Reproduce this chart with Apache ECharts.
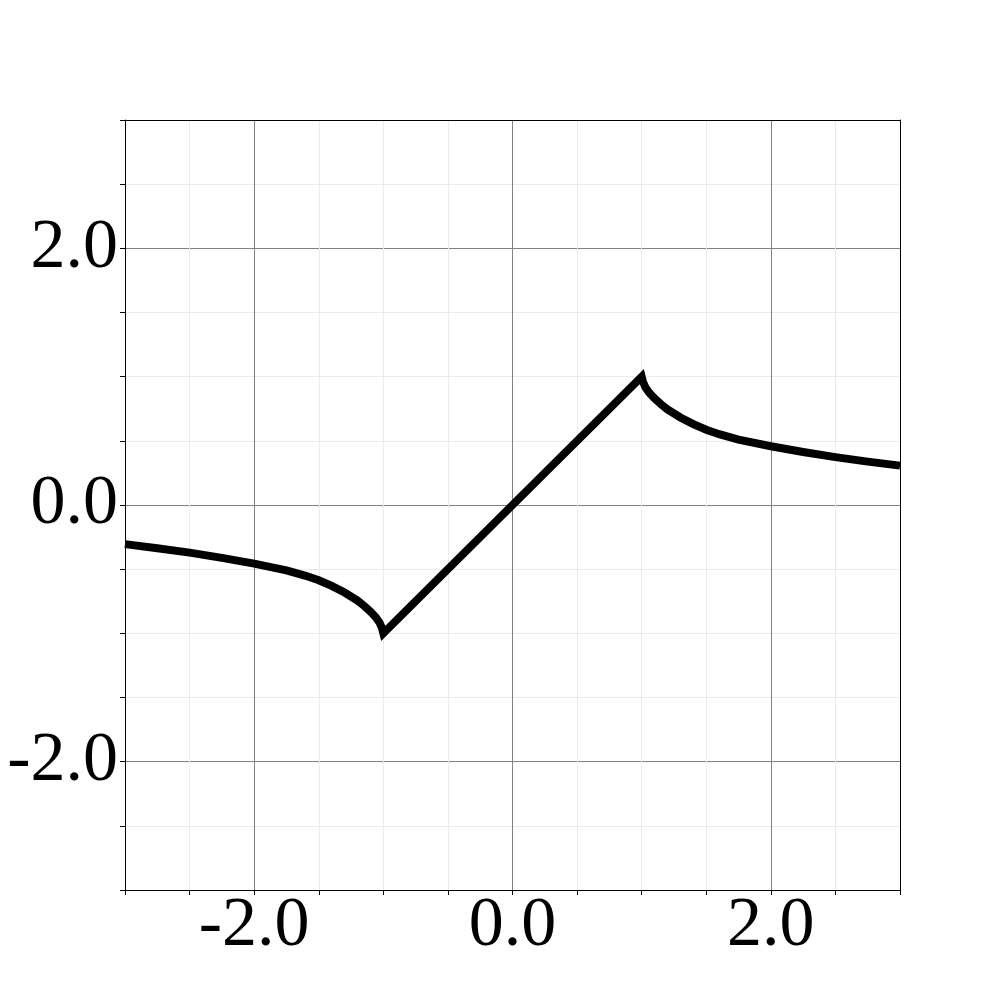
<!DOCTYPE html>
<html>
<head>
<meta charset="utf-8">
<script src="https://cdn.jsdelivr.net/npm/echarts@6/dist/echarts.min.js"></script>
<style>html,body{margin:0;padding:0;background:#fff;}#c{width:1000px;height:1000px;}</style>
</head>
<body>
<div id="c"></div>
<script>
const xValues = [-3, -2.75, -2.5, -2.25, -2, -1.75, -1.6, -1.5, -1.4, -1.3, -1.2, -1.15, -1.1, -1.06, -1.03, -1.01, -1, 0,
                 1, 1.01, 1.03, 1.06, 1.1, 1.15, 1.2, 1.3, 1.4, 1.5, 1.6, 1.75, 2, 2.25, 2.5, 2.75, 3];
const yValues = [-0.305, -0.337, -0.371, -0.412, -0.457, -0.51, -0.552, -0.587, -0.63, -0.682, -0.745, -0.785, -0.83, -0.873, -0.915, -0.96, -1, 0,
                 1, 0.96, 0.915, 0.873, 0.83, 0.785, 0.745, 0.682, 0.63, 0.587, 0.552, 0.51, 0.458, 0.413, 0.373, 0.338, 0.307];
const tickLabels = [-2, 0, 2];

const data = xValues.map((x, i) => [x, yValues[i]]);
const fmt = v => (tickLabels.some(t => Math.abs(t - v) < 1e-9) ? v.toFixed(1) : '');
const gridColors = ['#ebebeb', '#808080', '#ebebeb', '#ebebeb'];
const font = "'Liberation Serif', 'DejaVu Serif', serif";

function mainAxis(isX) {
  return {
    type: 'value', min: -3, max: 3, interval: 0.5,
    position: isX ? 'bottom' : 'left',
    axisLine: { show: true, onZero: false, lineStyle: { color: '#000', width: 1 } },
    axisTick: { show: true, length: 5, lineStyle: { color: '#000', width: 1 } },
    axisLabel: {
      formatter: fmt, fontFamily: font, fontSize: 70, color: '#000',
      margin: isX ? 2 : 7
    },
    splitLine: { show: true, showMinLine: false, showMaxLine: false, lineStyle: { color: gridColors, width: 1 } }
  };
}
function borderAxis(isX) {
  return {
    type: 'value', min: -3, max: 3, interval: 0.5,
    position: isX ? 'top' : 'right',
    axisLine: { show: true, onZero: false, lineStyle: { color: '#000', width: 1 } },
    axisTick: { show: false }, axisLabel: { show: false }, splitLine: { show: false }
  };
}

const chart = echarts.init(document.getElementById('c'), null, { renderer: 'canvas' });
chart.setOption({
  animation: false,
  backgroundColor: '#fff',
  grid: { left: 125, right: 100, top: 120, bottom: 110, containLabel: false },
  xAxis: [mainAxis(true), borderAxis(true)],
  yAxis: [mainAxis(false), borderAxis(false)],
  series: [{
    type: 'line', data: data, xAxisIndex: 0, yAxisIndex: 0,
    showSymbol: false, symbol: 'none', smooth: false,
    lineStyle: { color: '#000', width: 8, cap: 'butt', join: 'miter' },
    z: 10
  }]
});
</script>
</body>
</html>
